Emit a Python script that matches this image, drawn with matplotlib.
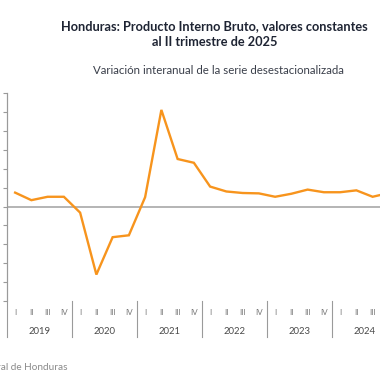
import matplotlib
matplotlib.use("Agg")

import matplotlib.pyplot as plt
import matplotlib.transforms as mtransforms

plt.rcParams['font.family'] = ['Lato', 'DejaVu Sans']

# datos: variacion interanual (%) de la serie desestacionalizada
years = ['2019', '2020', '2021', '2022', '2023', '2024', '2025']
quarters = ['I', 'II', 'III', 'IV']
growth = [3.7, 1.7, 2.6, 2.6,        # 2019
          -1.6, -18.0, -8.1, -7.6,   # 2020
          2.5, 25.6, 12.6, 11.6,     # 2021
          5.3, 4.0, 3.6, 3.5,        # 2022
          2.6, 3.4, 4.5, 3.8,        # 2023
          3.8, 4.3, 2.6, 3.6,        # 2024
          3.6, 3.8]                  # 2025
yticks = list(range(-25, 35, 5))

W = 380.0
fig = plt.figure(figsize=(3.8, 3.8), dpi=100)
# axes deliberately runs past the right edge (chart is cropped in the original)
ax = fig.add_axes([7 / W, (W - 301) / W, 422.5 / W, 207.7 / W])

x = list(range(len(growth)))
ax.axhline(0, color='#A8A8A8', lw=1.2, zorder=1)
ax.plot(x, growth, color='#F7941D', lw=1.7, zorder=2, solid_joinstyle='miter')

ax.set_xlim(-0.5, len(growth) - 0.5)
ax.set_ylim(-25, 30)
ax.set_yticks(yticks)
ax.set_yticklabels([])
ax.tick_params(axis='y', length=3, width=0.8, color='#9A9A9A')

# only label the quarters that fall inside the visible (cropped) area
n_vis = 23
xlabels = [quarters[i % 4] if i < n_vis else '' for i in x]
ax.set_xticks(x)
ax.set_xticklabels(xlabels, fontsize=5.8, color='#7A7A7A')
ax.tick_params(axis='x', length=0, pad=6)

for s in ['top', 'right', 'bottom']:
    ax.spines[s].set_visible(False)
ax.spines['left'].set_color('#9A9A9A')
ax.spines['left'].set_linewidth(0.8)

trans = mtransforms.blended_transform_factory(ax.transData, ax.transAxes)
low = -36 / 207.7
for k in range(len(years)):
    xs = 4 * k - 0.5
    ax.plot([xs, xs], [0 if k else 1, low], color='#9A9A9A', lw=0.8,
            transform=trans, clip_on=False)
for k, yr in enumerate(years[:6]):
    ax.text(4 * k + 1.5, -31 / 207.7, yr, transform=trans, ha='center',
            va='center', fontsize=6.8, color='#4A4A4A')

fig.text(214 / W, 1 - 26 / W, 'Honduras: Producto Interno Bruto, valores constantes',
         ha='center', va='center', fontsize=9.2, fontweight='bold', color='#1E2433')
fig.text(215 / W, 1 - 42 / W, 'al II trimestre de 2025',
         ha='center', va='center', fontsize=9.2, fontweight='bold', color='#1E2433')
fig.text(218 / W, 1 - 71 / W, 'Variación interanual de la serie desestacionalizada',
         ha='center', va='center', fontsize=8.3, color='#3A3F4A')
fig.text(68 / W, 1 - 368 / W, 'Fuente: Banco Central de Honduras',
         ha='right', va='center', fontsize=7.2, color='#8A8A8A')

fig.savefig('out.png', dpi=100)
